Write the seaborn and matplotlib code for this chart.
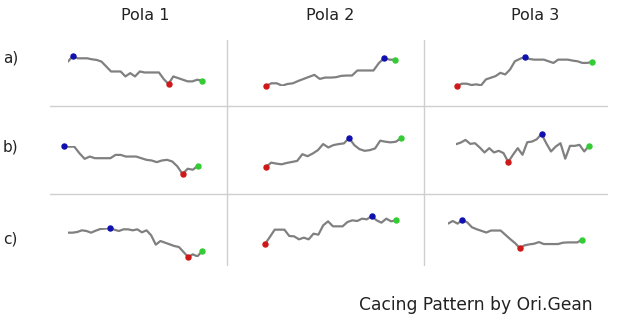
import matplotlib
matplotlib.use("Agg")
import matplotlib.pyplot as plt
from matplotlib.lines import Line2D
import seaborn as sns
import pandas as pd

sns.set_theme(style="white")
plt.rcParams['font.family'] = ['DejaVu Sans']

col_titles = ["Pola 1", "Pola 2", "Pola 3"]
row_labels = ["a)", "b)", "c)"]
footer = "Cacing Pattern by Ori.Gean"

# series values (arbitrary units)
a_pola1 = [105, 122, 115, 115, 115, 112, 110, 105, 90, 75, 75, 75, 60, 70, 60,
           75, 72, 72, 72, 72, 52, 37, 60, 55, 50, 45, 45, 50, 47]
a_pola2 = [32, 40, 40, 33, 38, 40, 47, 53, 59, 65, 53, 57, 57, 58, 62, 63, 63,
           78, 78, 78, 78, 100, 115, 110, 110]
a_pola3 = [30, 37, 37, 33, 35, 32, 50, 55, 60, 70, 65, 80, 105, 112, 118, 112,
           110, 110, 110, 105, 100, 110, 110, 110, 107, 105, 100, 100, 103]
b_pola1 = [92, 90, 90, 70, 53, 60, 55, 55, 55, 55, 65, 65, 60, 60, 60, 55, 50,
           48, 43, 48, 50, 45, 30, 7, 23, 20, 32]
b_pola2 = [30, 43, 40, 38, 42, 45, 48, 68, 62, 70, 80, 98, 88, 95, 98, 100, 116,
           95, 83, 78, 80, 85, 108, 105, 103, 105, 115]
b_pola3 = [97, 102, 110, 98, 100, 87, 72, 85, 72, 77, 70, 43, 65, 85, 65, 103,
           105, 112, 128, 100, 75, 90, 100, 53, 92, 92, 95, 75, 92]
c_pola1 = [88, 88, 90, 95, 93, 88, 94, 99, 100, 102, 97, 93, 98, 98, 95, 98, 89,
           95, 80, 52, 63, 58, 53, 48, 45, 30, 15, 23, 17, 32]
c_pola2 = [54, 75, 97, 97, 97, 78, 77, 68, 73, 68, 85, 82, 110, 122, 107, 107,
           107, 120, 125, 123, 130, 128, 138, 125, 118, 130, 122, 125]
c_pola3 = [114, 122, 114, 125, 118, 103, 97, 92, 87, 93, 93, 93, 80, 67, 55, 40,
           48, 51, 53, 58, 52, 52, 52, 52, 56, 57, 57, 57, 65]

series = [[a_pola1, a_pola2, a_pola3],
          [b_pola1, b_pola2, b_pola3],
          [c_pola1, c_pola2, c_pola3]]

W, H = 620, 327
fig = plt.figure(figsize=(W / 100, H / 100), dpi=100)
fig.patch.set_facecolor("white")

def px_rect(x0, y0, x1, y1):
    # pixel box (top-left origin) -> figure fraction rect
    return [x0 / W, 1 - y1 / H, (x1 - x0) / W, (y1 - y0) / H]

# layout: pixel boxes of each sparkline (x0, y0, x1, y1)
boxes = [[(68, 56, 202, 84), (266, 58, 395, 86), (457, 57, 592, 86)],
         [(64, 146, 198, 174), (266, 138, 401, 167), (456, 134, 589, 162)],
         [(68, 228, 202, 257), (265, 216, 396, 244), (448, 220, 582, 248)]]

line_color = "#808080"
for r in range(3):
    for c in range(3):
        vals = series[r][c]
        df = pd.DataFrame({"x": range(len(vals)), "y": vals})
        ax = fig.add_axes(px_rect(*boxes[r][c]))
        sns.lineplot(data=df, x="x", y="y", ax=ax, color=line_color,
                     linewidth=1.6)
        imax = df["y"].idxmax()
        imin = df["y"].idxmin()
        iend = len(df) - 1
        for idx, col in [(imax, "#1010b0"), (imin, "#d01818"), (iend, "#33cc33")]:
            ax.plot(df["x"].iloc[idx], df["y"].iloc[idx], "o", color=col,
                    markersize=3.6, clip_on=False, zorder=5)
        ax.set_xlim(0, len(vals) - 1)
        ax.set_ylim(min(vals), max(vals))
        ax.axis("off")

# grid separators
gcol = "#cfcfcf"
for xp in (227, 424):
    fig.add_artist(Line2D([xp / W, xp / W], [1 - 40 / H, 1 - 265 / H],
                          color=gcol, linewidth=1.0))
for yp in (106, 194):
    fig.add_artist(Line2D([50 / W, 607 / W], [1 - yp / H, 1 - yp / H],
                          color=gcol, linewidth=1.0))

tcol = "#222222"
for cx, t in zip((145, 330, 535), col_titles):
    fig.text(cx / W, 1 - 16 / H, t, ha="center", va="center",
             fontsize=11.5, color=tcol)
for cy, t in zip((58, 147, 239), row_labels):
    fig.text(3 / W, 1 - cy / H, t, ha="left", va="center",
             fontsize=11, color=tcol)
fig.text(593 / W, 1 - 305 / H, footer, ha="right", va="center",
         fontsize=12.3, color=tcol)

fig.savefig("out.png", dpi=100, facecolor="white")
